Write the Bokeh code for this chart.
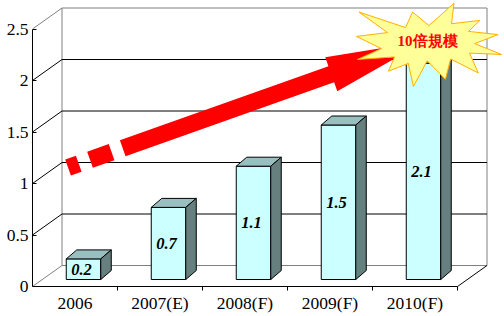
import math
from bokeh.plotting import figure
from bokeh.models import Range1d, FixedTicker
from bokeh.core.properties import value
from bokeh.embed import file_html
from bokeh.resources import INLINE

# ---------------- data ----------------
categories = ["2006", "2007(E)", "2008(F)", "2009(F)", "2010(F)"]
values = [0.2, 0.7, 1.1, 1.5, 2.1]
value_labels = ["0.2", "0.7", "1.1", "1.5", "2.1"]
y_ticks = [0, 0.5, 1, 1.5, 2, 2.5]
y_tick_labels = ["0", "0.5", "1", "1.5", "2", "2.5"]
callout_text = "10倍規模"
y_max = 2.5

# ---------------- layout (pixels) ----------------
W, H = 504, 316
FRAME_LEFT = 32          # frame left edge inside the figure
ZERO_Y = 286             # screen row of value 0 (front plane) inside the figure
PX_X = 85.0              # pixels per category
PX_Y = 103.0             # pixels per unit of value
WALL_DX, WALL_DY = 29.5, 21.0   # depth offset of back wall
BAR_OX, BAR_OY = 8.5, 7.0       # bar front face offset from front plane
BAR_W = 34.5
BAR_DX, BAR_DY = 10.5, 9.0      # bar depth

def dx(px):
    return px / PX_X

def dy(px):
    return px / PX_Y

n = len(categories)
x_end = (W - FRAME_LEFT) / PX_X
y_start = -(H - ZERO_Y) / PX_Y
y_end = ZERO_Y / PX_Y

p = figure(width=W, height=H,
           x_range=Range1d(0, x_end), y_range=Range1d(y_start, y_end),
           x_axis_location=None, y_axis_location="left",
           output_backend="svg", toolbar_location=None,
           min_border_left=FRAME_LEFT, min_border_right=0,
           min_border_top=0, min_border_bottom=0)
p.grid.grid_line_color = None
p.outline_line_color = None
p.background_fill_color = "white"
p.border_fill_color = "white"

yax = p.yaxis[0]
yax.ticker = FixedTicker(ticks=y_ticks)
yax.major_label_overrides = {t: l for t, l in zip(y_ticks, y_tick_labels)}
yax.bounds = (0, y_max)
yax.major_tick_in = 4
yax.major_tick_out = 0
yax.minor_tick_line_color = None
yax.axis_line_color = "black"
yax.major_tick_line_color = "black"
yax.major_label_text_font = "Liberation Serif"
yax.major_label_text_font_size = "17.5px"
yax.major_label_text_color = "black"
yax.major_label_standoff = 4

GRAY = "#808080"
wdx, wdy = dx(WALL_DX), dy(WALL_DY)
inner = y_ticks[1:-1]

# back wall border
p.line(x=[wdx, wdx, n + wdx, n + wdx, wdx],
       y=[wdy, y_max + wdy, y_max + wdy, wdy, wdy], line_color=GRAY, line_width=1)
# back wall gridlines
p.segment(x0=[wdx] * len(inner), y0=[t + wdy for t in inner],
          x1=[n + wdx] * len(inner), y1=[t + wdy for t in inner],
          line_color="black", line_width=1)
# left wall diagonals
p.segment(x0=[0] * len(inner), y0=inner,
          x1=[wdx] * len(inner), y1=[t + wdy for t in inner],
          line_color="black", line_width=1)
p.segment(x0=[0, 0], y0=[0, y_max], x1=[wdx, wdx], y1=[wdy, y_max + wdy],
          line_color=GRAY, line_width=1)
# floor front edge and right edge
p.segment(x0=[0, n], y0=[0, 0], x1=[n, n + wdx], y1=[0, wdy],
          line_color="black", line_width=1)
# category boundary ticks
p.segment(x0=list(range(1, n + 1)), y0=[0] * n,
          x1=list(range(1, n + 1)), y1=[-dy(4)] * n,
          line_color="black", line_width=1)

# ---------------- bars ----------------
hw = dx(BAR_W) / 2
oy = dy(BAR_OY)
bdx, bdy = dx(BAR_DX), dy(BAR_DY)
cx = [i + 0.5 + dx(BAR_OX) for i in range(n)]
L = [c - hw for c in cx]
R = [c + hw for c in cx]
T = [v + oy for v in values]

p.quad(left=L, right=R, bottom=[oy] * n, top=T,
       fill_color="#CCFFFF", line_color="black", line_width=1)
p.patches(xs=[[l, r, r + bdx, l + bdx] for l, r in zip(L, R)],
          ys=[[t, t, t + bdy, t + bdy] for t in T],
          fill_color="#99C0C0", line_color="black", line_width=1)
p.patches(xs=[[r, r + bdx, r + bdx, r] for r in R],
          ys=[[oy, oy + bdy, t + bdy, t] for t in T],
          fill_color="#668080", line_color="black", line_width=1)

p.text(x=[c - dx(2) for c in cx], y=[oy + v / 2 for v in values], text=value_labels,
       text_align="center", text_baseline="middle",
       text_font=value("Liberation Serif"), text_font_style="bold italic",
       text_font_size="16.5px", text_color="black")

p.text(x=[i + 0.5 for i in range(n)], y=[-dy(16.5)] * n, text=categories,
       text_align="center", text_baseline="middle",
       text_font=value("Liberation Serif"), text_font_size="17.5px", text_color="black")

# ---------------- dashed arrow (annotation) ----------------
ARROW_FROM = (0.418, 1.155)   # data coords
ARROW_TO = (4.624, 2.384)
SHAFT_W, HEAD_W, HEAD_L = 17.0, 36.0, 100.0
fx, fy = ARROW_FROM[0] * PX_X, ARROW_FROM[1] * PX_Y
tx, ty = ARROW_TO[0] * PX_X, ARROW_TO[1] * PX_Y
length = math.hypot(tx - fx, ty - fy)
ux, uy = (tx - fx) / length, (ty - fy) / length
nx, ny = -uy, ux

def pt(a, off):
    return ((fx + ux * a + nx * off) / PX_X, (fy + uy * a + ny * off) / PX_Y)

pieces = []
for a, b in [(0, 11.4), (23.3, 46.2)]:
    pieces.append([pt(a, SHAFT_W / 2), pt(b, SHAFT_W / 2), pt(b, -SHAFT_W / 2), pt(a, -SHAFT_W / 2)])
hb = length - HEAD_L
pieces.append([pt(58.0, SHAFT_W / 2), pt(hb, SHAFT_W / 2), pt(hb, HEAD_W / 2), pt(length, 0),
               pt(hb, -HEAD_W / 2), pt(hb, -SHAFT_W / 2), pt(58.0, -SHAFT_W / 2)])
p.patches(xs=[[q[0] for q in pc] for pc in pieces], ys=[[q[1] for q in pc] for pc in pieces],
          fill_color="#FF0000", line_color=None)

# ---------------- explosion callout ----------------
seal = [(10800, 5800), (14522, 0), (14155, 5325), (18380, 4457), (16702, 7315), (21097, 8137),
        (17607, 10475), (21600, 13290), (16837, 12942), (18145, 18095), (14020, 14457),
        (13247, 19737), (10532, 14935), (8485, 21600), (7715, 15627), (4762, 17617),
        (5667, 13937), (135, 14587), (3722, 11775), (0, 8615), (4627, 7617), (370, 2295),
        (7312, 6320), (8352, 2295)]
STAR_X0, STAR_W = dx(356 - 32), dx(145)
STAR_Y1, STAR_H = dy(286 - 2.7), dy(83.3)
p.patch(x=[STAR_X0 + sx / 21600 * STAR_W for sx, sy in seal],
        y=[STAR_Y1 - sy / 21600 * STAR_H for sx, sy in seal],
        fill_color="#FFFF99", line_color="#FFB000", line_width=1)
p.text(x=[dx(427 - 32)], y=[dy(286 - 40)], text=[callout_text],
       text_align="center", text_baseline="middle",
       text_font=value("Liberation Serif"), text_font_style="bold",
       text_font_size="15px", text_color="#FF0000")

open("out.html", "w").write(file_html(p, INLINE))
